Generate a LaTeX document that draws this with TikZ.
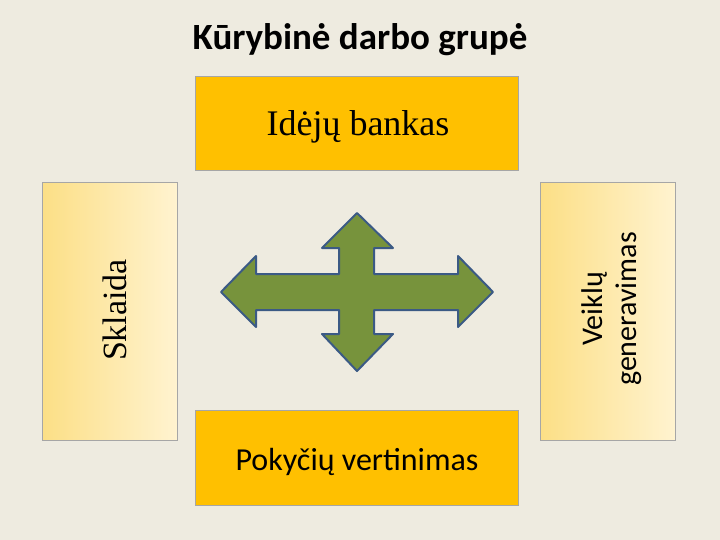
\documentclass[tikz,border=0pt]{standalone}
\usepackage{fontspec}
\setmainfont{Liberation Serif}
\newfontfamily\carlitofont{Carlito}
\definecolor{bg}{HTML}{EEEBE0}
\definecolor{gold}{HTML}{FFC000}
\definecolor{pale1}{HTML}{FCDF86}
\definecolor{pale2}{HTML}{FFF3D0}
\definecolor{arrgreen}{HTML}{77933C}
\definecolor{arrblue}{HTML}{3B5A85}
\begin{document}
\begin{tikzpicture}[x=1pt,y=-1pt,
  goldbox/.style={draw=gray!70,line width=0.8pt,fill=gold},
  palebox/.style={draw=gray!70,line width=0.8pt,left color=pale1,right color=pale2}]
\fill[bg] (0,0) rectangle (720,540);
\useasboundingbox (0,0) rectangle (720,540);
\node[font=\carlitofont\bfseries\fontsize{37}{42}\selectfont] (title) at (360,40) {Kūrybinė darbo grupė};
\node[goldbox,minimum width=323pt,minimum height=94pt,anchor=north west] (top) at (195,76) {};
\node[font=\fontsize{36}{42}\selectfont] (toptext) at (358,127) {Idėjų bankas};
\node[palebox,minimum width=135pt,minimum height=258pt,anchor=north west] (left) at (42,182) {};
\node[rotate=90,font=\fontsize{34}{40}\selectfont] (lefttext) at (115,310) {Sklaida};
\node[palebox,minimum width=135pt,minimum height=258pt,anchor=north west] (right) at (540,182) {};
\node[rotate=90,align=center,font=\carlitofont\fontsize{30}{34}\selectfont] (righttext) at (612,309) {Veiklų\\generavimas};
\node[goldbox,minimum width=323pt,minimum height=95pt,anchor=north west] (bot) at (195,410) {};
\node[font=\carlitofont\fontsize{32}{38}\selectfont] (bottext) at (357,462) {Pokyčių vertinimas};
\draw[fill=arrgreen,draw=arrblue,line width=2pt,line join=round]
 (221,292) -- (256,256) -- (256,274) -- (339,274) -- (339,248) -- (322,248) -- (357,213)
 -- (393,248) -- (374,248) -- (374,274) -- (458,274) -- (458,256) -- (493,292)
 -- (458,327) -- (458,310) -- (374,310) -- (374,334) -- (393,334) -- (357,371)
 -- (322,334) -- (339,334) -- (339,310) -- (256,310) -- (256,327) -- cycle;
\end{tikzpicture}
\end{document}
